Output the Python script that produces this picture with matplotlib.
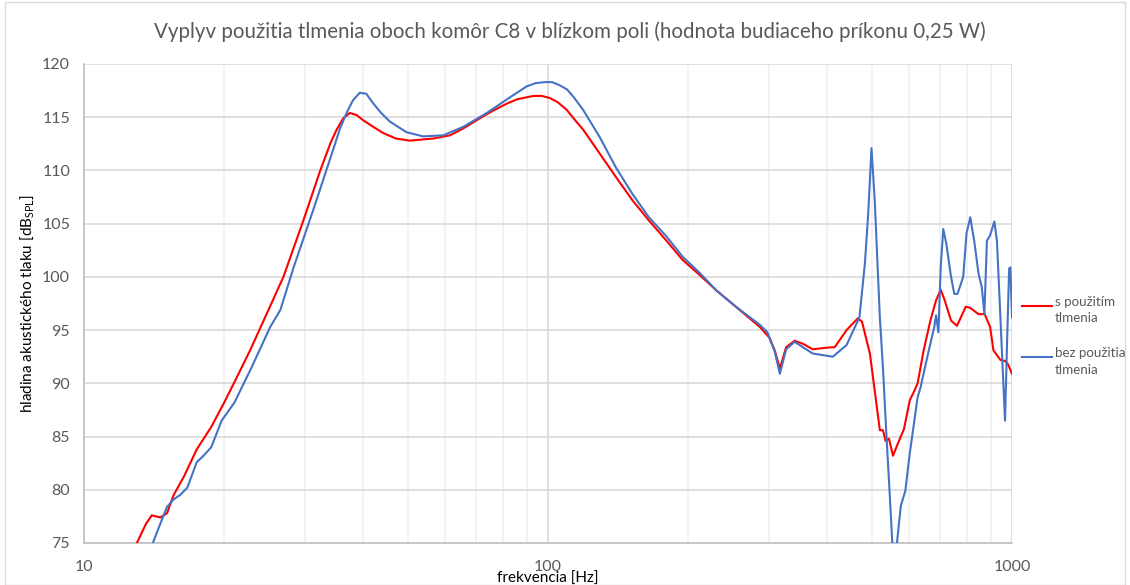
import matplotlib.pyplot as plt
from matplotlib.patches import Rectangle
from matplotlib.lines import Line2D
from matplotlib.ticker import FixedLocator, NullFormatter

plt.rcParams['font.family'] = ['Lato', 'DejaVu Sans']

# s použitím tlmenia (red)
f_s = [13.0, 13.6, 14.0, 14.6, 15.1, 15.6, 16.4, 17.5, 18.8, 20.0, 21.2, 22.8, 24.8,
       26.9, 29.7, 32.3, 34.0, 35.0, 36.2, 37.4, 38.7, 40.0, 42.0, 44.2, 47.0, 50.4, 56.6, 61.5,
       66.0, 71.3, 76.0, 81.7, 86.0, 93.0, 97.0, 101, 105, 109.7, 114, 119.2, 129.2, 140, 152,
       165, 180, 195, 212, 231, 254, 286, 300,
       308, 316, 326, 340, 355, 372, 399, 415, 440, 465, 475, 494, 506, 519, 527,
       534, 543, 554, 567, 585, 602, 616, 626, 645, 667, 686, 702, 716, 739, 761,
       776, 795, 812, 847, 873, 897, 912, 944, 966, 980, 1000]
db_s = [75.0, 76.8, 77.6, 77.4, 77.8, 79.5, 81.2, 83.8, 85.9, 88.1, 90.3, 93.1, 96.6,
        100.0, 105.3, 110.0, 112.6, 113.8, 114.9, 115.4, 115.2, 114.7, 114.1, 113.5, 113.0, 112.8, 113.0, 113.3,
        114.0, 114.9, 115.6, 116.3, 116.7, 117.0, 117.0, 116.8, 116.4, 115.7, 114.8, 113.8, 111.6, 109.4, 107.2,
        105.3, 103.4, 101.6, 100.2, 98.7, 97.2, 95.3, 94.3,
        93.1, 91.4, 93.4, 94.0, 93.7, 93.2, 93.35, 93.4, 95.0, 96.1, 95.8, 92.8, 89.3, 85.6, 85.6,
        84.6, 84.8, 83.2, 84.3, 85.7, 88.4, 89.3, 90.0, 93.1, 95.9, 97.8, 98.8, 97.8, 95.9, 95.4,
        96.2, 97.2, 97.1, 96.5, 96.5, 95.3, 93.1, 92.2, 92.1, 91.8, 90.9]

# bez použitia tlmenia (blue)
f_b = [13.8, 14.1, 14.6, 15.1, 15.6, 16.1, 16.7, 17.5, 18.1, 18.8, 19.8, 21.1, 22.1,
       22.8, 25.2, 26.5, 28.3, 31.2, 34.4, 35.6, 36.8, 38.0, 39.3, 40.6, 42.0, 43.7, 45.6, 49.5, 53.8, 59.5,
       65.7, 73.8, 83, 90, 94, 98.6, 102, 106, 110, 114, 119, 129, 140, 152, 165, 180, 195, 212,
       231, 254, 286, 297, 308, 316, 326, 340, 372, 411, 440, 469, 482, 490, 498,
       506, 519, 527, 536, 546, 552, 558, 565, 576, 589, 602, 616, 626, 635, 657,
       680, 686, 694, 702, 711, 722, 739, 751, 763, 785, 798, 813, 829, 847, 861,
       872, 883, 897, 916, 928, 944, 966, 977, 986, 992, 1000]
db_b = [74.0, 75.1, 76.8, 78.4, 79.1, 79.5, 80.2, 82.6, 83.2, 84.0, 86.5, 88.2, 90.0,
        91.2, 95.3, 96.9, 100.9, 106.3, 111.9, 113.9, 115.4, 116.6, 117.3, 117.2, 116.3, 115.4, 114.6, 113.6, 113.2, 113.3,
        114.1, 115.4, 116.9, 117.9, 118.2, 118.3, 118.3, 118.0, 117.6, 116.8, 115.7, 113.2, 110.3, 107.8, 105.6, 103.8, 101.9, 100.4,
        98.7, 97.2, 95.5, 94.8, 93.0, 90.9, 93.2, 93.9, 92.8, 92.5, 93.6, 96.2, 101.3, 106.0, 112.1,
        107.2, 96.2, 91.5, 85.3, 79.0, 75.1, 72.0, 75.0, 78.5, 79.9, 83.4, 86.5, 88.7, 89.6, 92.5,
        95.3, 96.4, 94.8, 100.9, 104.5, 103.1, 100.0, 98.4, 98.4, 100.0, 104.1, 105.6, 103.4, 100.3, 99.0,
        96.5, 103.4, 103.9, 105.2, 103.4, 96.2, 86.5, 94.7, 100.8, 100.9, 96.2]

title = 'Vyplyv použitia tlmenia oboch komôr C8 v blízkom poli (hodnota budiaceho príkonu 0,25 W)'
labels = ['s použitím\ntlmenia', 'bez použitia\ntlmenia']
colors = ['#FF0000', '#4472C4']

W, H = 1130, 585
fig = plt.figure(figsize=(W / 100, H / 100), dpi=100)
ax = fig.add_axes([84 / W, 1 - 543 / H, 928 / W, 479 / H])

ax.plot(f_s, db_s, color=colors[0], lw=1.5, zorder=3)
ax.plot(f_b, db_b, color=colors[1], lw=1.5, zorder=3)

ax.set_xscale('log')
ax.set_xlim(10, 1000)
ax.set_ylim(75, 120)
ax.set_yticks(range(75, 121, 5))
ax.xaxis.set_major_locator(FixedLocator([10, 100, 1000]))
ax.xaxis.set_minor_locator(FixedLocator([20, 30, 40, 50, 60, 70, 80, 90,
                                         200, 300, 400, 500, 600, 700, 800, 900]))
ax.xaxis.set_minor_formatter(NullFormatter())
ax.set_xticklabels(['10', '100', '1000'])

ax.grid(True, which='major', color='#d9d9d9', lw=1.2)
ax.grid(True, which='minor', axis='x', color='#f0f0f0', lw=1.2)
ax.set_axisbelow(True)
for s in ['top', 'right']:
    ax.spines[s].set_visible(False)
for s in ['left', 'bottom']:
    ax.spines[s].set_color('#bfbfbf')
    ax.spines[s].set_linewidth(1.2)

ax.tick_params(which='both', length=0)
ax.tick_params(axis='y', colors='#595959', labelsize=11.5, pad=10)
ax.tick_params(axis='x', colors='#595959', labelsize=11.5, pad=12)

fig.text(570 / W, 1 - 32 / H, title, fontsize=14.8, color='#595959', ha='center', va='center')
ax.set_xlabel('frekvencia [Hz]', fontsize=11, color='black', labelpad=-1)
ax.set_ylabel('hladina akustického tlaku [dB$_{\\mathregular{SPL}}$]', fontsize=11,
              color='black', labelpad=4)

# legend (Excel style: handle next to the first line of the label)
for i, (lab, c) in enumerate(zip(labels, colors)):
    y0 = 306 + i * 51
    fig.add_artist(Line2D([1022 / W, 1052 / W], [1 - y0 / H, 1 - y0 / H],
                          transform=fig.transFigure, color=c, lw=1.5))
    fig.text(1055 / W, 1 - (y0 - 10) / H, lab, ha='left', va='top', fontsize=9.6,
             color='#595959', linespacing=1.45)

fig.patches.append(Rectangle((0.004, 0.0), 0.992, 0.997, transform=fig.transFigure,
                             fill=False, edgecolor='#d9d9d9', lw=1))

fig.savefig('out.png', dpi=100)
